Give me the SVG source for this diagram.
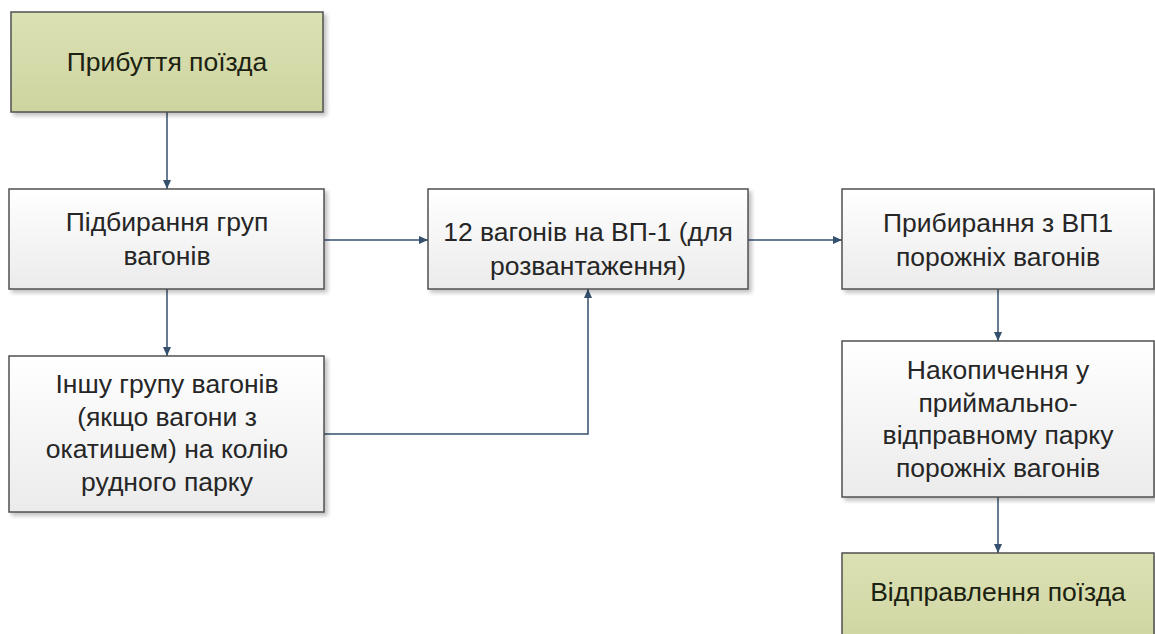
<svg xmlns="http://www.w3.org/2000/svg" width="1155" height="634" viewBox="0 0 1155 634">
  <defs>
    <linearGradient id="gWhite" x1="0" y1="0" x2="0" y2="1">
      <stop offset="0" stop-color="#ffffff"/>
      <stop offset="1" stop-color="#ebebeb"/>
    </linearGradient>
    <linearGradient id="gGreen" x1="0" y1="0" x2="0" y2="1">
      <stop offset="0" stop-color="#dce1b4"/>
      <stop offset="1" stop-color="#cdd49f"/>
    </linearGradient>
    <filter id="shadow" x="-5%" y="-5%" width="112%" height="115%">
      <feGaussianBlur in="SourceAlpha" stdDeviation="2"/>
      <feOffset dx="3" dy="3" result="b"/>
      <feComponentTransfer><feFuncA type="linear" slope="0.25"/></feComponentTransfer>
      <feMerge><feMergeNode/><feMergeNode in="SourceGraphic"/></feMerge>
    </filter>
    <marker id="arrow" viewBox="0 0 10 10" refX="10" refY="5" markerWidth="9" markerHeight="8" markerUnits="userSpaceOnUse" orient="auto" preserveAspectRatio="none">
      <path d="M0,0 L10,5 L0,10 z" fill="#34506e"/>
    </marker>
  </defs>
  <style>
    .box { stroke: #505050; stroke-width: 1.5; filter: url(#shadow); }
    .plain { fill: url(#gWhite); }
    .green { fill: url(#gGreen); }
    .lbl { font-family: "Liberation Sans", Arial, sans-serif; font-size: 26.5px; fill: #262626; text-anchor: middle; }
    .lblg { fill: #1c2212; }
    .conn { fill: none; stroke: #34506e; stroke-width: 1.5; marker-end: url(#arrow); }
  </style>

  <rect width="1155" height="634" fill="#ffffff"/>

  <!-- connectors -->
  <g id="connectors">
    <path class="conn" d="M167,112 V189"/>
    <path class="conn" d="M167,289 V356"/>
    <path class="conn" d="M324,240 H428"/>
    <path class="conn" d="M748,240 H842"/>
    <path class="conn" d="M998,289 V341"/>
    <path class="conn" d="M998,497 V553"/>
    <path class="conn" d="M324,434 H588 V289"/>
  </g>

  <!-- train arrival -->
  <g id="arrival">
    <rect class="box green" x="11" y="12" width="312" height="100"/>
    <text class="lbl lblg" x="167" y="71">Прибуття поїзда</text>
  </g>

  <!-- picking up wagon groups -->
  <g id="pickup">
    <rect class="box plain" x="9" y="189" width="315" height="100"/>
    <text class="lbl" x="167" y="231">Підбирання груп</text>
    <text class="lbl" x="167" y="265">вагонів</text>
  </g>

  <!-- 12 wagons to unloading -->
  <g id="unload">
    <rect class="box plain" x="428" y="189" width="320" height="100"/>
    <text class="lbl" x="588" y="241">12 вагонів на ВП-1 (для</text>
    <text class="lbl" x="588" y="275">розвантаження)</text>
  </g>

  <!-- removing empty wagons -->
  <g id="remove">
    <rect class="box plain" x="842" y="189" width="312" height="100"/>
    <text class="lbl" x="998" y="232">Прибирання з ВП1</text>
    <text class="lbl" x="998" y="266">порожніх вагонів</text>
  </g>

  <!-- other wagon group -->
  <g id="other">
    <rect class="box plain" x="9" y="356" width="315" height="156"/>
    <text class="lbl" x="167" y="393">Іншу групу вагонів</text>
    <text class="lbl" x="167" y="425.5">(якщо вагони з</text>
    <text class="lbl" x="167" y="458">окатишем) на колію</text>
    <text class="lbl" x="167" y="490.5">рудного парку</text>
  </g>

  <!-- accumulation -->
  <g id="accumulate">
    <rect class="box plain" x="842" y="341" width="312" height="156"/>
    <text class="lbl" x="998" y="379">Накопичення у</text>
    <text class="lbl" x="998" y="411.5">приймально-</text>
    <text class="lbl" x="998" y="444">відправному парку</text>
    <text class="lbl" x="998" y="476.5">порожніх вагонів</text>
  </g>

  <!-- train departure -->
  <g id="departure">
    <rect class="box green" x="842" y="553" width="312" height="100"/>
    <text class="lbl lblg" x="998" y="601">Відправлення поїзда</text>
  </g>
</svg>
